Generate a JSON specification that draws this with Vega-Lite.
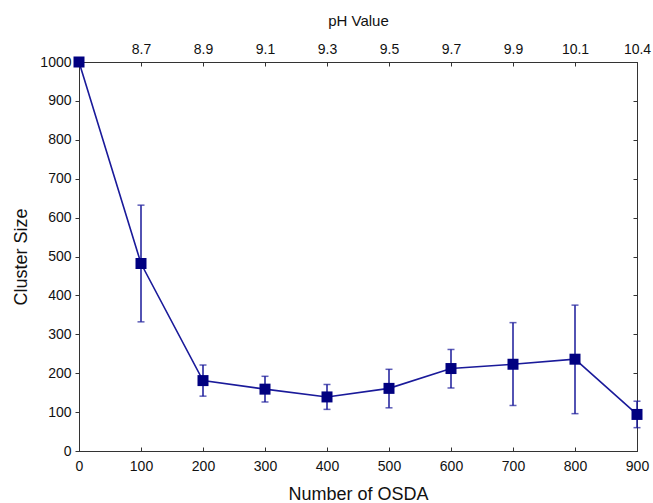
{
  "$schema": "https://vega.github.io/schema/vega-lite/v6.json",
  "autosize": "none",
  "width": 558,
  "height": 389,
  "padding": {"left": 79, "top": 62, "right": 16, "bottom": 52},
  "background": "white",
  "config": {
    "font": "Liberation Sans",
    "view": {"stroke": "#333333", "strokeWidth": 1},
    "axis": {
      "grid": false,
      "domainColor": "#333333",
      "tickColor": "#333333",
      "labelColor": "#111111",
      "titleColor": "#111111",
      "labelFontSize": 14,
      "titleFontSize": 18,
      "titleFontWeight": "normal",
      "labelFont": "Liberation Sans",
      "titleFont": "Liberation Sans",
      "labelFlush": false,
      "labelOverlap": false,
      "format": "d"
    }
  },
  "data": {
    "values": [
      {"n": 0, "size": 1000, "lo": 1000, "hi": 1000},
      {"n": 100, "size": 482, "lo": 332, "hi": 632},
      {"n": 200, "size": 181, "lo": 141, "hi": 221},
      {"n": 300, "size": 159, "lo": 126, "hi": 192},
      {"n": 400, "size": 139, "lo": 107, "hi": 171},
      {"n": 500, "size": 161, "lo": 111, "hi": 210},
      {"n": 600, "size": 212, "lo": 162, "hi": 261},
      {"n": 700, "size": 223, "lo": 117, "hi": 330},
      {"n": 800, "size": 236, "lo": 96, "hi": 375},
      {"n": 900, "size": 94, "lo": 60, "hi": 128}
    ]
  },
  "resolve": {"axis": {"x": "independent", "y": "independent"}},
  "layer": [
    {
      "mark": {"type": "rule", "color": "#1a1a9a", "strokeWidth": 1.5},
      "encoding": {
        "x": {
          "field": "n", "type": "quantitative",
          "scale": {"domain": [0, 900], "nice": false, "zero": false},
          "axis": {
            "orient": "bottom", "values": [0, 100, 200, 300, 400, 500, 600, 700, 800, 900],
            "format": "d",
            "tickSize": -4, "labelPadding": 12, "title": "Number of OSDA", "titlePadding": 12
          }
        },
        "y": {
          "field": "lo", "type": "quantitative",
          "scale": {"domain": [0, 1000], "nice": false},
          "axis": {
            "orient": "left", "values": [0, 100, 200, 300, 400, 500, 600, 700, 800, 900, 1000],
            "format": "d",
            "tickSize": 4, "labelPadding": 4, "title": "Cluster Size", "titlePadding": 9
          }
        },
        "y2": {"field": "hi"}
      }
    },
    {
      "mark": {"type": "tick", "orient": "horizontal", "color": "#1a1a9a", "size": 7, "thickness": 1.5},
      "encoding": {
        "x": {"field": "n", "type": "quantitative", "axis": null},
        "y": {"field": "lo", "type": "quantitative", "axis": null}
      }
    },
    {
      "mark": {"type": "tick", "orient": "horizontal", "color": "#1a1a9a", "size": 7, "thickness": 1.5},
      "encoding": {
        "x": {"field": "n", "type": "quantitative", "axis": null},
        "y": {"field": "hi", "type": "quantitative", "axis": null}
      }
    },
    {
      "mark": {"type": "line", "color": "#1a1a9a", "strokeWidth": 1.6},
      "encoding": {
        "x": {
          "field": "n", "type": "quantitative",
          "axis": {
            "orient": "top", "values": [100, 200, 300, 400, 500, 600, 700, 800, 900],
            "labelExpr": "['', '8.7', '8.9', '9.1', '9.3', '9.5', '9.7', '9.9', '10.1', '10.4'][round(datum.value / 100)]",
            "tickSize": -4, "labelPadding": 10, "title": "pH Value", "titlePadding": 14, "titleFontSize": 15
          }
        },
        "y": {
          "field": "size", "type": "quantitative",
          "axis": {
            "orient": "right", "values": [100, 200, 300, 400, 500, 600, 700, 800, 900],
            "tickSize": -4, "labels": false, "title": null
          }
        }
      }
    },
    {
      "mark": {"type": "point", "shape": "square", "filled": true, "color": "#000080", "opacity": 1, "size": 121},
      "encoding": {
        "x": {"field": "n", "type": "quantitative", "axis": null},
        "y": {"field": "size", "type": "quantitative", "axis": null}
      }
    }
  ]
}
